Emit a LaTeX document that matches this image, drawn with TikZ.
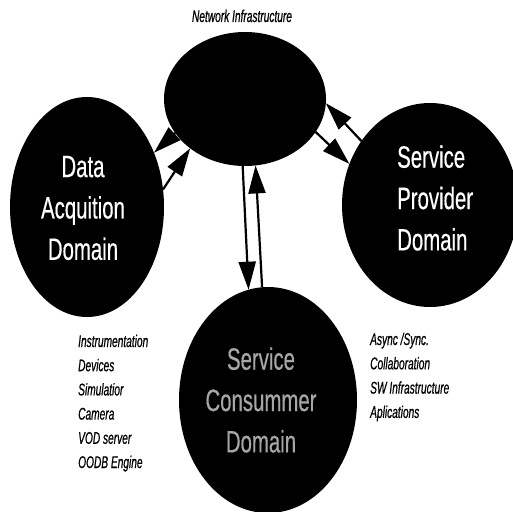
\documentclass[tikz,border=0pt]{standalone}
\usepackage{fontspec}
\usetikzlibrary{shapes.geometric,arrows.meta}
\newfontfamily\zonefont[FakeStretch=0.66,FakeBold=0.4]{Liberation Sans}
\newfontfamily\itemfont[FakeStretch=0.6,FakeBold=0.6]{Liberation Sans}
\begin{document}
\begin{tikzpicture}[x=1bp,y=-1bp,line join=round,
	zone/.style={ellipse,fill=black,inner sep=0pt,outer sep=0pt},
	zonetext/.style={text=white,inner sep=0pt,font=\zonefont\fontsize{31}{41.5}\selectfont},
	listitem/.style={anchor=base west,inner sep=0pt,font=\itemfont\itshape\fontsize{17}{19}\selectfont},
	link/.style={draw,line width=2.2bp,-{Triangle[length=28bp,width=17bp]}}]
			\useasboundingbox (0,0) rectangle (513,512);
			\node[zone,minimum width=162bp,minimum height=134bp] (net) at (245,99) {};
			\node[zone,minimum width=154bp,minimum height=220bp] (daq) at (87,207) {};
			\node[zone,minimum width=176bp,minimum height=204bp] (prov) at (430,205) {};
			\node[zone,minimum width=178bp,minimum height=226bp] (cons) at (268,400) {};
			\draw[link] (net.206) -- (daq.39);
			\draw[link] (daq.13) -- (net.222);
			\draw[link] (prov.137) -- (net.357);
			\draw[link] (net.335) -- (prov.153);
			\draw[link] (net.268) -- (cons.100);
			\draw[link] (cons.93) -- (net.279);
			\node[zonetext,align=center] (daqlbl) at (83,208) {Data\\Acquition\\Domain};
			\node[zonetext,align=left,anchor=west] (provlbl) at (397,198) {Service\\Provider\\Domain};
			\node[zonetext,align=center,text=gray!70] (conslbl) at (261,400) {Service\\Consummer\\Domain};
			\node[listitem,anchor=base] (netlbl) at (242,22) {Network Infrastructure};
			\foreach \t [count=\i] in {Instrumentation,Devices,Simulatior,Camera,VOD server,OODB Engine}
				\node[listitem] (daqitem\i) at (78,{347+24.2*(\i-1)}) {\t};
			\foreach \t [count=\i] in {Async /Sync.,Collaboration,SW Infrastructure,Aplications}
				\node[listitem] (provitem\i) at (370,{345+24.3*(\i-1)}) {\t};
		\end{tikzpicture}
\end{document}
